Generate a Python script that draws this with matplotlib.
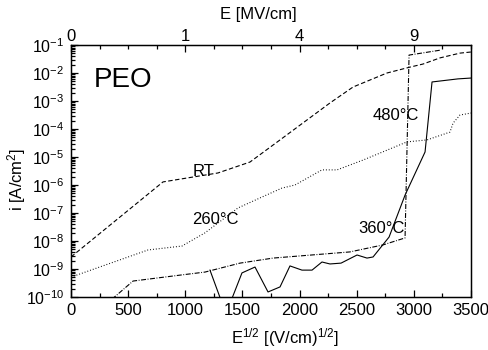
import matplotlib
matplotlib.use("Agg")
import matplotlib.pyplot as plt
import numpy as np
from matplotlib.ticker import LogLocator, MultipleLocator, NullFormatter

plt.rcParams["font.family"] = ["Liberation Sans", "DejaVu Sans"]
plt.rcParams["mathtext.fontset"] = "custom"
plt.rcParams["mathtext.rm"] = "Liberation Sans"
plt.rcParams["mathtext.it"] = "Liberation Sans:italic"

# sqrt(E) in (V/cm)^1/2 and log10 of current density in A/cm^2
rt_x = [0, 805, 1286, 1566, 1829, 2266, 2468, 2765, 2966, 3080, 3229, 3404, 3500]
rt_log = [-8.57, -5.89, -5.57, -5.18, -4.39, -3.07, -2.50, -2.00, -1.79, -1.68, -1.46, -1.29, -1.25]

t260_x = [0, 674, 971, 1172, 1461, 1671, 1846, 1960, 2196, 2328, 2555, 2940, 3115, 3316, 3343, 3404, 3500]
t260_log = [-9.29, -8.32, -8.18, -7.71, -6.82, -6.43, -6.11, -6.00, -5.46, -5.46, -5.11, -4.46, -4.39, -4.11, -3.79, -3.50, -3.43]

dd_x = [298, 543, 971, 1172, 1479, 1768, 2441, 2730, 2923, 2958, 3238]
dd_log = [-10.29, -9.43, -9.21, -9.11, -8.79, -8.61, -8.39, -8.14, -7.89, -1.36, -1.18]

solid_x = [1216, 1356, 1496, 1610, 1724, 1829, 1916, 2021, 2109, 2196, 2266, 2363, 2503,
           2590, 2643, 2783, 2923, 3098, 3159, 3386, 3500]
solid_log = [-9.04, -10.60, -9.14, -8.93, -9.82, -9.64, -8.89, -9.04, -9.04, -8.75, -8.82, -8.79,
             -8.50, -8.61, -8.57, -7.86, -6.36, -4.82, -2.32, -2.21, -2.18]

top_tick_pos = [0, 1000, 2000, 3000]
top_tick_labels = ["0", "1", "4", "9"]

FS = 12

fig = plt.figure(figsize=(4.89, 3.5), dpi=100)
ax = fig.add_axes([71 / 489, 1 - 297 / 350, 400 / 489, 252 / 350])

lw = 0.8
ax.plot(rt_x, 10.0 ** np.array(rt_log), color="black", lw=lw, dashes=(4.0, 2.2))
ax.plot(t260_x, 10.0 ** np.array(t260_log), color="black", lw=lw, dashes=(0.8, 1.8))
ax.plot(dd_x, 10.0 ** np.array(dd_log), color="black", lw=lw, dashes=(4.5, 1.4, 0.8, 1.4))
ax.plot(solid_x, 10.0 ** np.array(solid_log), color="black", lw=lw)

ax.set_yscale("log")
ax.set_xlim(0, 3500)
ax.set_ylim(1e-10, 1e-1)

ax.xaxis.set_major_locator(MultipleLocator(500))
ax.xaxis.set_minor_locator(MultipleLocator(250))
ax.yaxis.set_major_locator(LogLocator(base=10, numticks=20))
ax.yaxis.set_minor_locator(LogLocator(base=10, subs=np.arange(2, 10), numticks=20))
ax.yaxis.set_minor_formatter(NullFormatter())

ax.tick_params(axis="both", which="both", direction="in", top=False, right=False,
               labelsize=FS, width=0.9)
ax.tick_params(axis="both", which="major", length=5, pad=4)
ax.tick_params(axis="both", which="minor", length=3)
ax.tick_params(axis="y", which="major", pad=5, labelsize=11.5)

for sp in ax.spines.values():
    sp.set_linewidth(1.0)

ax2 = ax.twiny()
ax2.set_xlim(ax.get_xlim())
ax2.set_xticks(top_tick_pos)
ax2.set_xticklabels(top_tick_labels)
ax2.xaxis.set_minor_locator(MultipleLocator(250))
ax2.tick_params(axis="x", which="both", direction="in", labelsize=FS, width=0.9)
ax2.tick_params(axis="x", which="major", length=5, pad=1)
ax2.tick_params(axis="x", which="minor", length=3)

ax.set_xlabel(r"E$^{1/2}$ [(V/cm)$^{1/2}$]", fontsize=FS)
ax.xaxis.set_label_coords((285 - 71) / 400, -(338 - 297) / 252)
ax.xaxis.label.set_va("center")
ax.set_ylabel(r"i [A/cm$^2$]", fontsize=FS)
ax.yaxis.set_label_coords(-(71 - 17) / 400, (297 - 179) / 252)
ax.yaxis.label.set_va("center")
ax2.set_xlabel("E [MV/cm]", fontsize=FS)
ax2.xaxis.set_label_coords((258 - 71) / 400, 1 + (45 - 14) / 252)
ax2.xaxis.label.set_va("center")

ax.text(201, 10 ** -2.25, "PEO", fontsize=20, va="center", ha="left")
ax.text(1164, 10 ** -5.5, "RT", fontsize=FS, va="center", ha="center")
ax.text(1059, 10 ** -7.25, "260°C", fontsize=FS, va="center", ha="left")
ax.text(2511, 10 ** -7.54, "360°C", fontsize=FS, va="center", ha="left")
ax.text(2643, 10 ** -3.5, "480°C", fontsize=FS, va="center", ha="left")

fig.savefig("out.png", dpi=100)
